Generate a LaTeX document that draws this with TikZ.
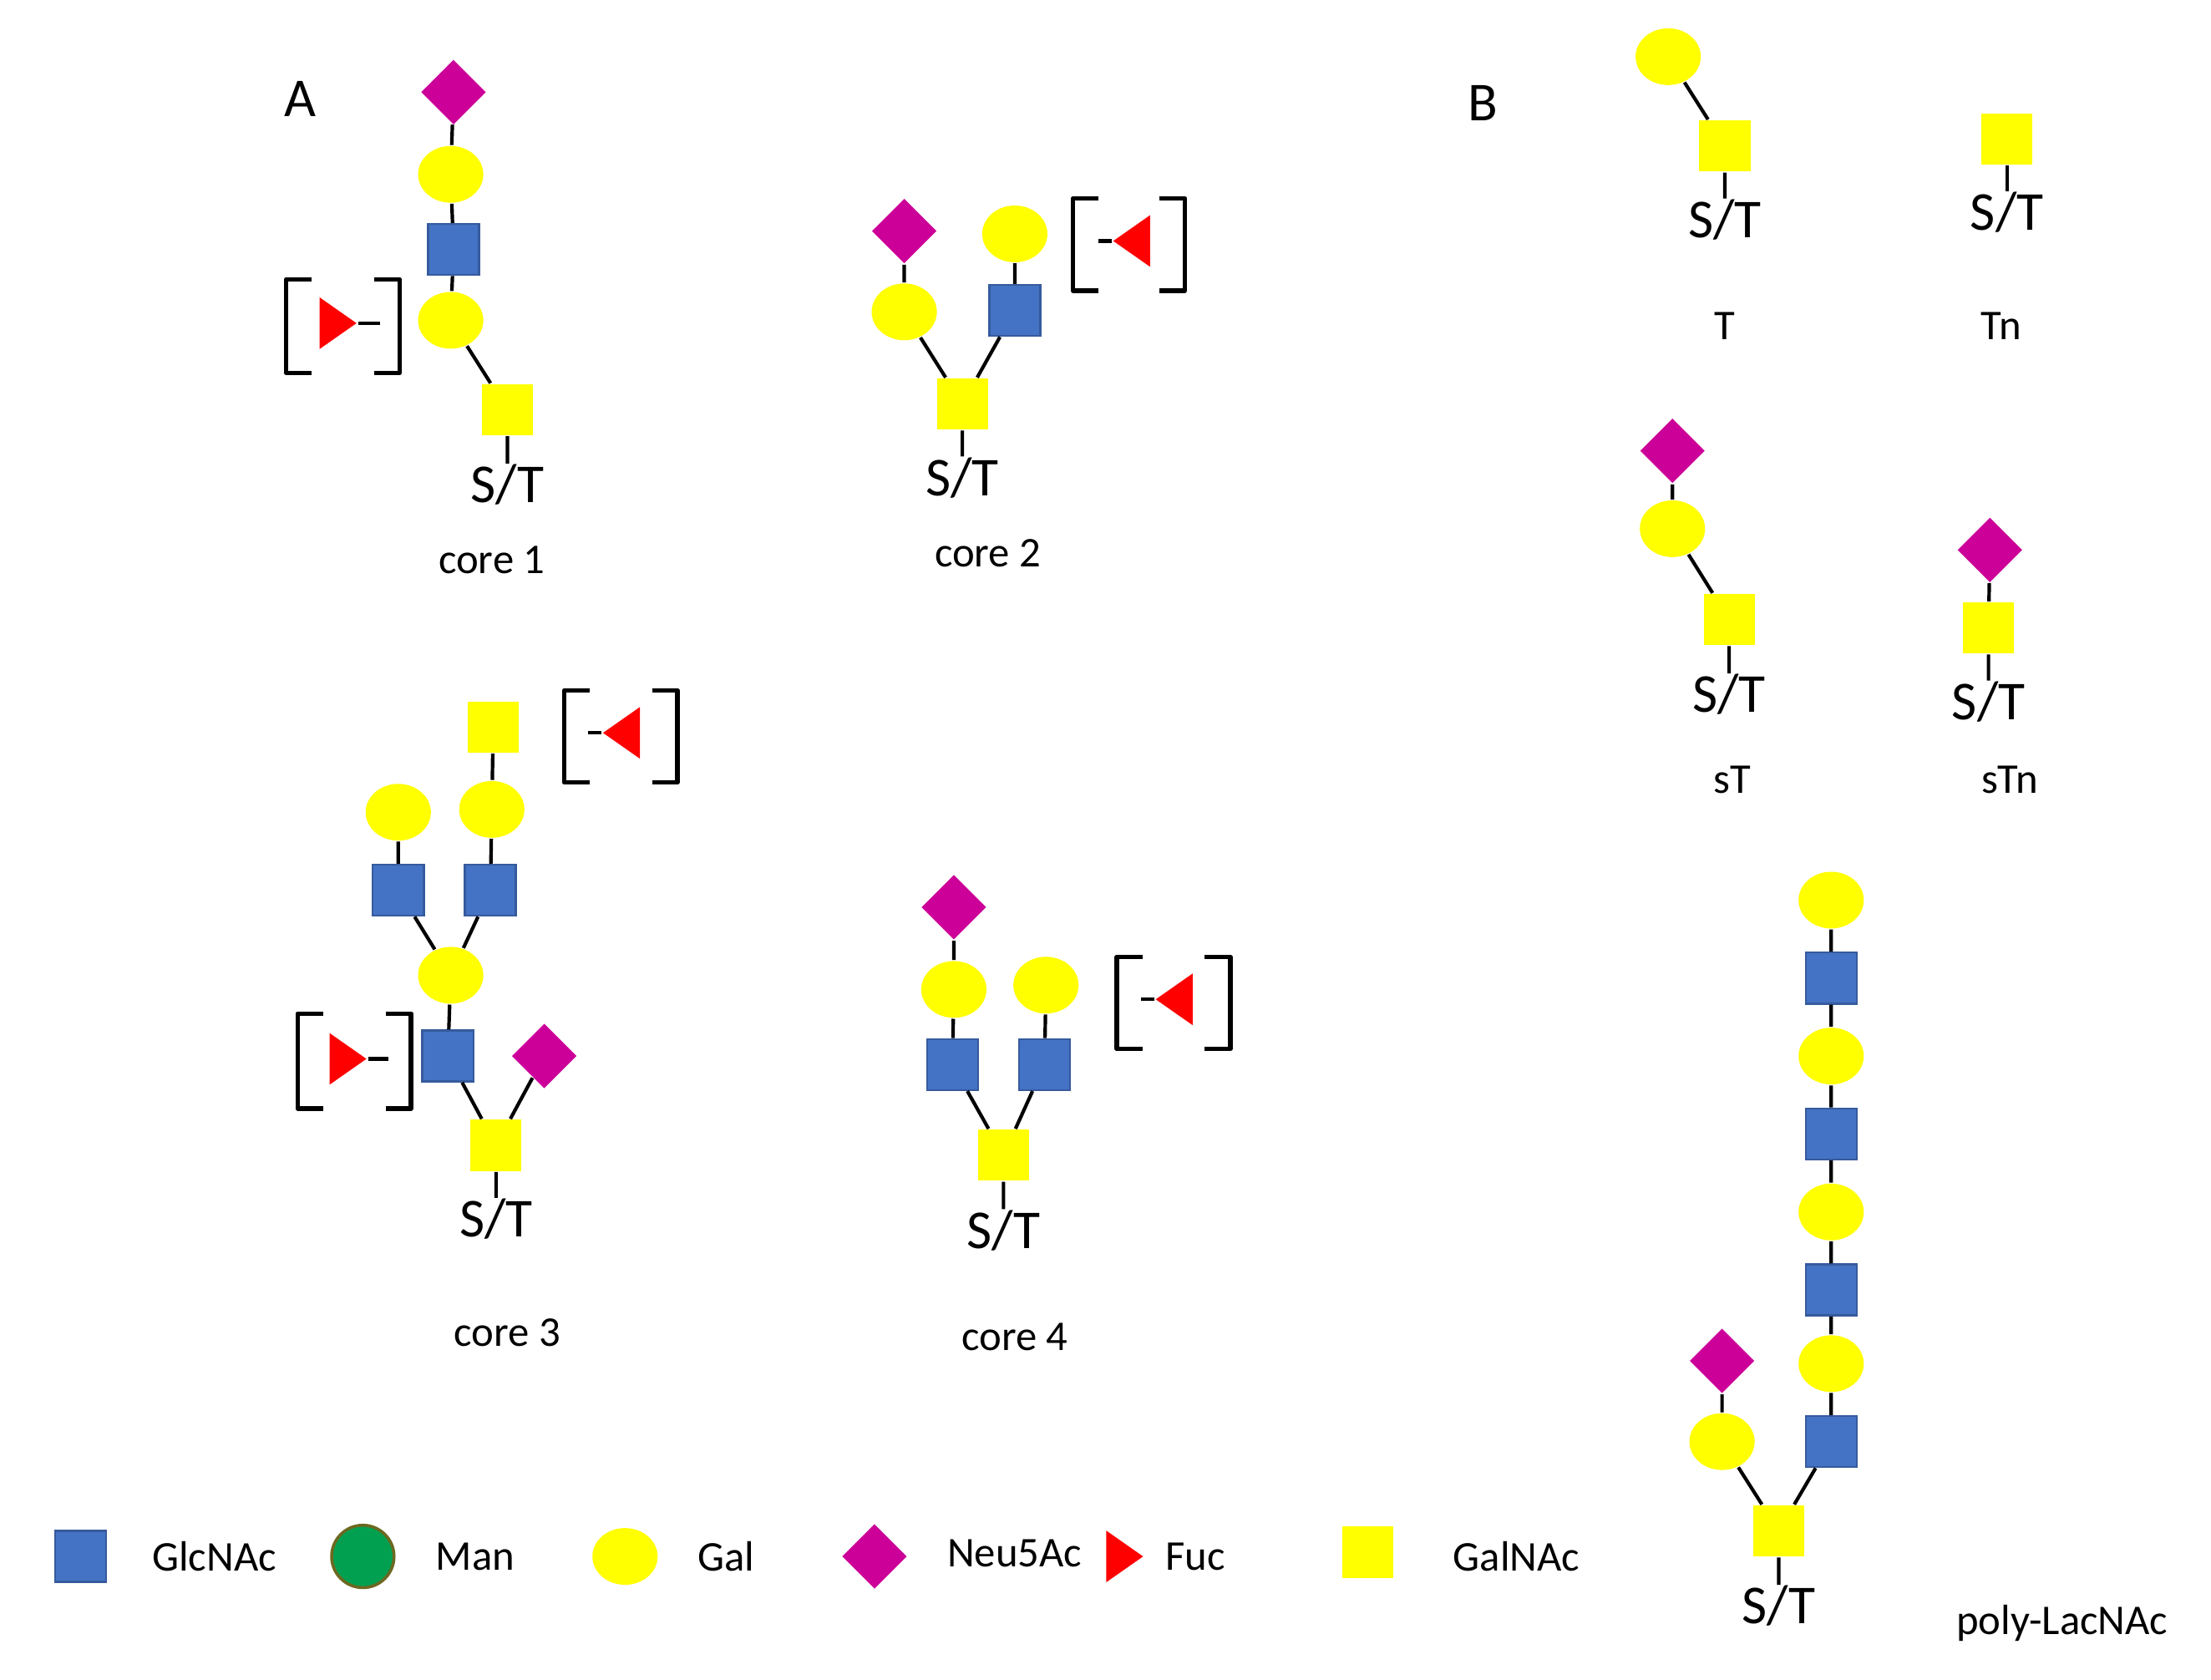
\documentclass[tikz,border=0pt]{standalone}
\usepackage{fontspec}
\setmainfont{Carlito}
\usetikzlibrary{shapes.geometric}
\definecolor{glcblue}{HTML}{4472C4}
\definecolor{galyellow}{HTML}{FFFF00}
\definecolor{neumag}{HTML}{CC0099}
\definecolor{mangreen}{HTML}{00A050}
\tikzset{
  glc/.style={draw=glcblue!80!black, fill=glcblue, minimum size=0.36cm, inner sep=0pt},
  galnac/.style={fill=galyellow, minimum size=0.36cm, inner sep=0pt},
  gal/.style={ellipse, fill=galyellow, minimum width=0.46cm, minimum height=0.40cm, inner sep=0pt},
  neu/.style={diamond, fill=neumag, minimum size=0.46cm, inner sep=0pt},
  fuc/.style={isosceles triangle, isosceles triangle apex angle=70, fill=red, minimum height=0.26cm, inner sep=0pt},
  fucr/.style={fuc, shape border rotate=0},
  fucl/.style={fuc, shape border rotate=180},
  st/.style={font=\fontsize{11}{11}\selectfont, inner sep=0pt},
  lbl/.style={font=\fontsize{8.5}{9}\selectfont},
  link/.style={line width=0.7pt},
  brk/.style={line width=0.9pt, line join=round}
}
\newcommand{\bracketbox}[4]{% x1,y1,x2,y2
  \draw[brk] (#1+18,#2) -- (#1,#2) -- (#1,#4) -- (#1+18,#4);
  \draw[brk] (#3-18,#2) -- (#3,#2) -- (#3,#4) -- (#3-18,#4);}
\begin{document}
\begin{tikzpicture}[x=0.01cm,y=-0.01cm]
\useasboundingbox (0,0) rectangle (1560,1185);

\node[font=\fontsize{11}{11}\selectfont] (labA) at (212,70) {A};
\node[font=\fontsize{11}{11}\selectfont] (labB) at (1046,73) {B};

% core 1
\node[neu] (c1n) at (320,65) {};
\node[gal] (c1g2) at (318,123) {};
\node[glc] (c1b) at (320,176) {};
\node[gal] (c1g1) at (318,226) {};
\node[galnac] (c1a) at (358,289) {};
\node[st] (c1st) at (358,342) {S/T};
\node[lbl] (c1l) at (347,395) {core 1};
\draw[link] (c1n) -- (c1g2) -- (c1b) -- (c1g1) -- (c1a) -- (c1st.north);
\bracketbox{202}{197}{282}{263}
\node[fucr] (c1f) at (235,228) {};
\coordinate (c1fe) at (268,228);
\draw[link] (c1f) -- (c1fe);

% core 2
\node[neu] (c2n) at (638,163) {};
\node[gal] (c2g1) at (638,220) {};
\node[gal] (c2g2) at (716,165) {};
\node[glc] (c2b) at (716,219) {};
\node[galnac] (c2a) at (679,285) {};
\node[st] (c2st) at (679,337) {S/T};
\node[lbl] (c2l) at (697,390) {core 2};
\draw[link] (c2n) -- (c2g1) -- (c2a) -- (c2st.north);
\draw[link] (c2g2) -- (c2b) -- (c2a);
\bracketbox{757}{140}{836}{205}
\node[fucl] (c2f) at (802,170) {};
\coordinate (c2fe) at (775,170);
\draw[link] (c2f) -- (c2fe);

% core 3
\node[galnac] (c3t) at (348,513) {};
\node[gal] (c3g3) at (347,571) {};
\node[gal] (c3g2) at (281,573) {};
\node[glc] (c3b2) at (281,628) {};
\node[glc] (c3b3) at (346,628) {};
\node[gal] (c3g1) at (318,688) {};
\node[glc] (c3b1) at (316,745) {};
\node[neu] (c3n) at (384,745) {};
\node[galnac] (c3a) at (350,808) {};
\node[st] (c3st) at (350,860) {S/T};
\node[lbl] (c3l) at (358,940) {core 3};
\draw[link] (c3t) -- (c3g3) -- (c3b3) -- (c3g1);
\draw[link] (c3g2) -- (c3b2) -- (c3g1) -- (c3b1) -- (c3a) -- (c3st.north);
\draw[link] (c3n) -- (c3a);
\bracketbox{398}{487}{478}{552}
\node[fucl] (c3f1) at (442,517) {};
\coordinate (c3f1e) at (415,517);
\draw[link] (c3f1) -- (c3f1e);
\bracketbox{210}{715}{290}{782}
\node[fucr] (c3f2) at (242,747) {};
\coordinate (c3f2e) at (274,747);
\draw[link] (c3f2) -- (c3f2e);

% core 4
\node[neu] (c4n) at (673,640) {};
\node[gal] (c4g1) at (673,698) {};
\node[gal] (c4g2) at (738,695) {};
\node[glc] (c4b1) at (672,751) {};
\node[glc] (c4b2) at (737,751) {};
\node[galnac] (c4a) at (708,815) {};
\node[st] (c4st) at (708,868) {S/T};
\node[lbl] (c4l) at (716,943) {core 4};
\draw[link] (c4n) -- (c4g1) -- (c4b1) -- (c4a) -- (c4st.north);
\draw[link] (c4g2) -- (c4b2) -- (c4a);
\bracketbox{788}{675}{868}{740}
\node[fucl] (c4f) at (832,705) {};
\coordinate (c4fe) at (805,705);
\draw[link] (c4f) -- (c4fe);

% T and Tn
\node[gal] (tg) at (1177,40) {};
\node[galnac] (ta) at (1217,103) {};
\node[st] (tst) at (1217,155) {S/T};
\node[lbl] (tl) at (1217,230) {T};
\draw[link] (tg) -- (ta) -- (tst.north);
\node[galnac] (tna) at (1416,98) {};
\node[st] (tnst) at (1416,150) {S/T};
\node[lbl] (tnl) at (1412,230) {Tn};
\draw[link] (tna) -- (tnst.north);

% sT and sTn
\node[neu] (stn) at (1180,318) {};
\node[gal] (stg) at (1180,373) {};
\node[galnac] (sta) at (1220,437) {};
\node[st] (stst) at (1220,490) {S/T};
\node[lbl] (stl) at (1222,550) {sT};
\draw[link] (stn) -- (stg) -- (sta) -- (stst.north);
\node[neu] (stnn) at (1404,388) {};
\node[galnac] (stna) at (1403,443) {};
\node[st] (stnst) at (1403,495) {S/T};
\node[lbl] (stnl) at (1418,550) {sTn};
\draw[link] (stnn) -- (stna) -- (stnst.north);

% poly-LacNAc
\foreach \i/\y in {1/635,3/745,5/855,7/962} \node[gal] (p\i) at (1292,\y) {};
\foreach \i/\y in {2/690,4/800,6/910,8/1017} \node[glc] (p\i) at (1292,\y) {};
\node[neu] (pn) at (1215,960) {};
\node[gal] (pg) at (1215,1017) {};
\node[galnac] (pa) at (1255,1080) {};
\node[st] (pst) at (1255,1133) {S/T};
\node[lbl] (pl) at (1455,1145) {poly-LacNAc};
\draw[link] (p1) -- (p2) -- (p3) -- (p4) -- (p5) -- (p6) -- (p7) -- (p8) -- (pa) -- (pst.north);
\draw[link] (pn) -- (pg) -- (pa);

% legend
\node[glc] (lg1) at (57,1098) {};
\node[lbl, anchor=west] (lt1) at (95,1098) {GlcNAc};
\node[circle, draw=olive!70!black, line width=0.6pt, fill=mangreen, minimum width=0.44cm, inner sep=0pt] (lg2) at (256,1098) {};
\node[lbl, anchor=west] (lt2) at (295,1098) {Man};
\node[gal] (lg3) at (441,1098) {};
\node[lbl, anchor=west] (lt3) at (480,1098) {Gal};
\node[neu] (lg4) at (617,1098) {};
\node[lbl, anchor=west] (lt4) at (656,1096) {Neu5Ac};
\node[fucr] (lg5) at (790,1098) {};
\node[lbl, anchor=west] (lt5) at (810,1098) {Fuc};
\node[galnac] (lg6) at (965,1095) {};
\node[lbl, anchor=west] (lt6) at (1013,1098) {GalNAc};
\end{tikzpicture}
\end{document}
